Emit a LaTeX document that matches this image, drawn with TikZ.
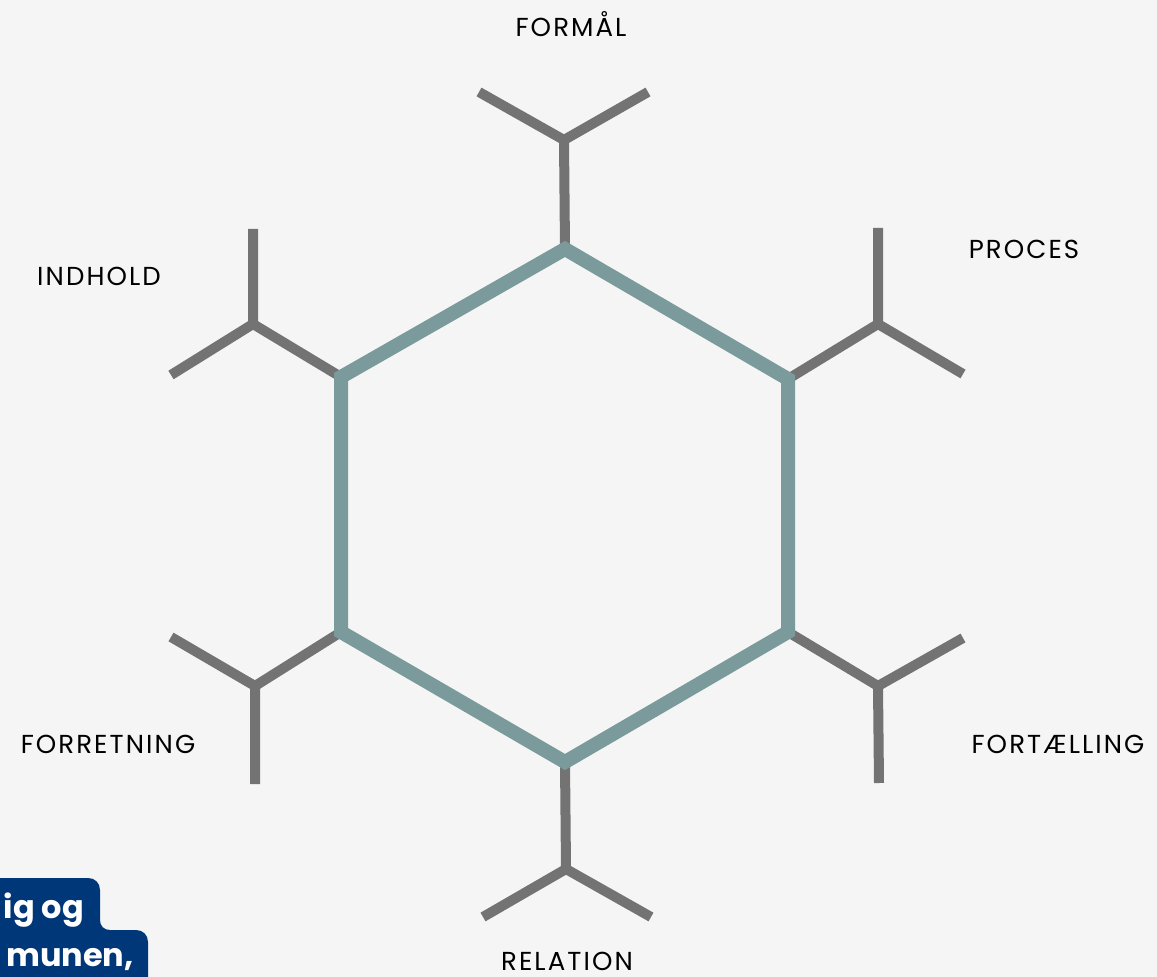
\documentclass[tikz,border=0pt]{standalone}
\usepackage{fontspec}
\setmainfont{Poppins}
\newfontfamily\lblfont[LetterSpace=8]{Poppins}

\begin{document}
\begin{tikzpicture}[x=0.75pt,y=0.75pt,yscale=-1,xscale=1]
\tikzset{
  hexline/.style={draw={rgb, 255:red, 122; green, 154; blue, 155}, line width=10.5pt},
  arm/.style={draw={rgb, 255:red, 115; green, 115; blue, 115}, line width=7.5pt},
  lbl/.style={font=\lblfont\fontsize{19.5}{22}\selectfont, text={rgb, 255:red, 0; green, 0; blue, 0}, inner sep=0pt, anchor=base},
  boxtxt/.style={font=\fontsize{24}{28}\selectfont\bfseries, text=white, inner sep=0pt, anchor=base east}
}
%Background
\fill [color={rgb, 255:red, 245; green, 245; blue, 245}] (0,0) rectangle (1157,977) ;
\useasboundingbox (0,0) rectangle (1157,977) ;

%Hexagon corners
\coordinate (vT) at (565,249) ;
\coordinate (vUR) at (788,379) ;
\coordinate (vLR) at (788,632) ;
\coordinate (vB) at (565,762) ;
\coordinate (vLL) at (341,632) ;
\coordinate (vUL) at (341,377) ;

%Arm junctions and ends
\coordinate (jT) at (564,140) ; \coordinate (tA) at (479,92) ; \coordinate (tB) at (648,92) ;
\coordinate (jUR) at (878,324) ; \coordinate (urA) at (878,228) ; \coordinate (urB) at (963,374) ;
\coordinate (jLR) at (878,686) ; \coordinate (lrA) at (963,638) ; \coordinate (lrB) at (879,783) ;
\coordinate (jB) at (566,869) ; \coordinate (bA) at (483,917) ; \coordinate (bB) at (651,917) ;
\coordinate (jLL) at (255,686) ; \coordinate (llA) at (171,637) ; \coordinate (llB) at (255,784) ;
\coordinate (jUL) at (253,324) ; \coordinate (ulA) at (253,229) ; \coordinate (ulB) at (171,375) ;

%Straight Lines: arms
\draw [arm] (vT) -- (jT) ; \draw [arm] (tA) -- (jT) -- (tB) ;
\draw [arm] (vUR) -- (jUR) ; \draw [arm] (urA) -- (jUR) -- (urB) ;
\draw [arm] (vLR) -- (jLR) ; \draw [arm] (lrA) -- (jLR) -- (lrB) ;
\draw [arm] (vB) -- (jB) ; \draw [arm] (bA) -- (jB) -- (bB) ;
\draw [arm] (vLL) -- (jLL) ; \draw [arm] (llA) -- (jLL) -- (llB) ;
\draw [arm] (vUL) -- (jUL) ; \draw [arm] (ulA) -- (jUL) -- (ulB) ;

%Shape: Hexagon
\draw [hexline] (vT) -- (vUR) -- (vLR) -- (vB) -- (vLL) -- (vUL) -- cycle ;

%Labels
\node [lbl] (formal) at (571,37) {FORMÅL} ;
\node [lbl] (proces) at (1024,258) {PROCES} ;
\node [lbl] (indhold) at (99,285) {INDHOLD} ;
\node [lbl] (fortaelling) at (1058,753) {FORTÆLLING} ;
\node [lbl] (forretning) at (108,753) {FORRETNING} ;
\node [lbl] (relation) at (567,970) {RELATION} ;

%Shape: cut-off text box
\fill [color={rgb, 255:red, 0; green, 55; blue, 120}] (-10,878) -- (88,878) .. controls (95,878) and (100,883) .. (100,890) -- (100,920) .. controls (100,926) and (104,930) .. (110,930) -- (136,930) .. controls (143,930) and (148,935) .. (148,942) -- (148,990) -- (-10,990) -- cycle ;
\node [boxtxt] (boxlineA) at (84,918) {ig og} ;
\node [boxtxt] (boxlineB) at (134,966) {munen,} ;
\end{tikzpicture}
\end{document}
